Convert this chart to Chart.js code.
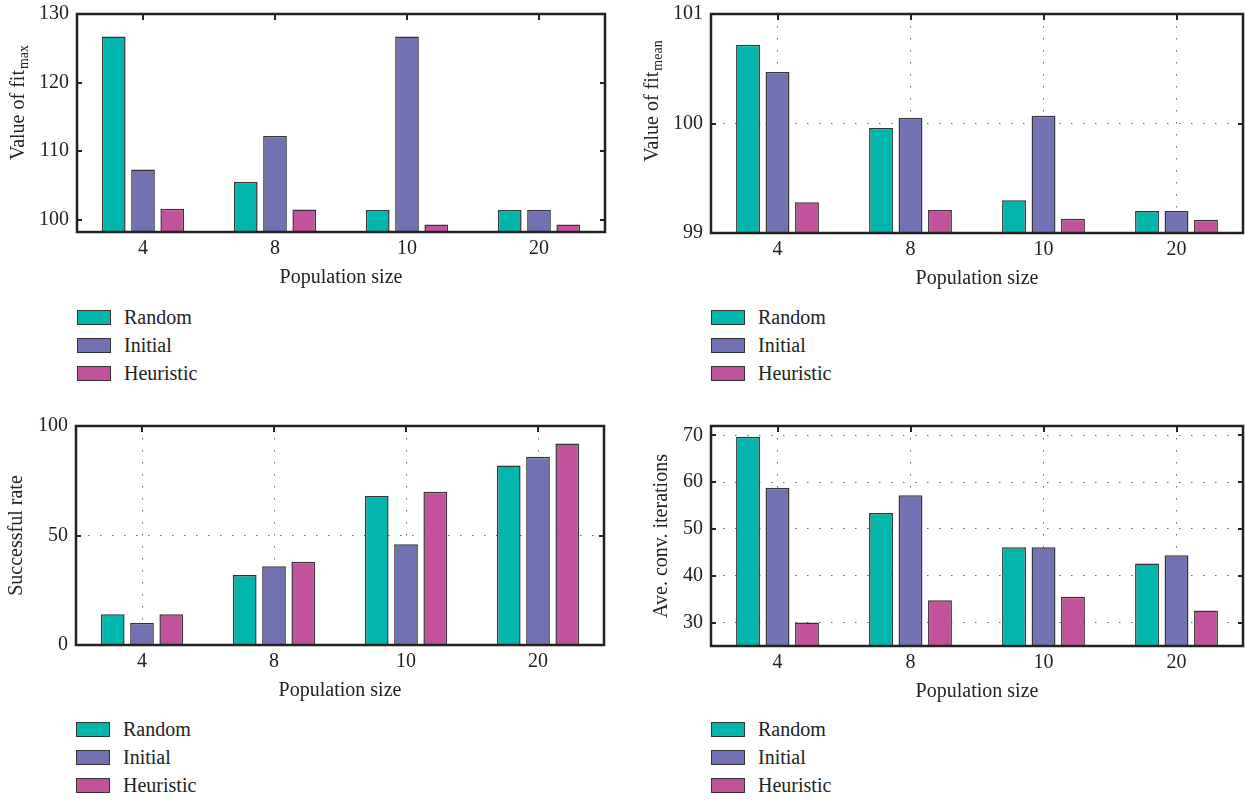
<!DOCTYPE html>
<html>
<head>
<meta charset="utf-8">
<script src="https://cdn.jsdelivr.net/npm/chart.js@4.4.1/dist/chart.umd.min.js"></script>
<style>
html, body { margin: 0; padding: 0; background: #fff; overflow: hidden; }
body { width: 1246px; height: 801px; position: relative; font-family: "Liberation Serif", serif; color: #222; }
.panel { position: absolute; width: 620px; height: 400px; }
.panel canvas { position: absolute; left: 0; top: 0; }
.legend { position: absolute; top: 303px; }
.legend .row { height: 28px; display: flex; align-items: center; font-size: 20px; }
.legend .box { width: 32px; height: 13px; border: 1.5px solid #333; margin-right: 13px; }
</style>
</head>
<body>

<div class="panel" id="p1" style="left:0;top:0"><canvas width="620" height="300"></canvas></div>
<div class="panel" id="p2" style="left:626px;top:0"><canvas width="620" height="300"></canvas></div>
<div class="panel" id="p3" style="left:0;top:412px"><canvas width="620" height="300"></canvas></div>
<div class="panel" id="p4" style="left:626px;top:412px"><canvas width="620" height="300"></canvas></div>

<script>
/* ================= DATA ================= */
const categories = ["4", "8", "10", "20"];
const seriesNames = ["Random", "Initial", "Heuristic"];
const seriesColors = ["#00b6ad", "#7171b4", "#c3529c"];

// value of fit_max
const fitMaxRandom = [126.7, 105.5, 101.4, 101.4];
const fitMaxInitial = [107.3, 112.2, 126.7, 101.4];
const fitMaxHeuristic = [101.6, 101.5, 99.3, 99.3];
const fitMaxTicks = [100, 110, 120, 130];

// value of fit_mean
const fitMeanRandom = [100.72, 99.96, 99.30, 99.20];
const fitMeanInitial = [100.47, 100.05, 100.07, 99.20];
const fitMeanHeuristic = [99.28, 99.21, 99.13, 99.12];
const fitMeanTicks = [99, 100, 101];

// successful rate
const rateRandom = [14, 32, 68, 82];
const rateInitial = [10, 36, 46, 86];
const rateHeuristic = [14, 38, 70, 92];
const rateTicks = [0, 50, 100];

// ave. conv. iterations
const iterRandom = [69.7, 53.4, 46.1, 42.6];
const iterInitial = [58.8, 57.2, 46.1, 44.4];
const iterHeuristic = [30.0, 34.8, 35.5, 32.6];
const iterTicks = [30, 40, 50, 60, 70];

const FONT = "'Liberation Serif', serif";
const INK = "#222";

/* ================= FRAME + TITLES ================= */
const framePlugin = {
    id: "frame",
    afterDatasetsDraw(chart, args, opts) {
        const { ctx, chartArea: a, scales: { x, y } } = chart;
        ctx.save();
        ctx.strokeStyle = INK;

        // inward tick marks
        ctx.lineWidth = 2;
        ctx.beginPath();
        y.ticks.forEach(t => {
            const py = Math.round(y.getPixelForValue(t.value));
            ctx.moveTo(a.left, py); ctx.lineTo(a.left + 5, py);
            ctx.moveTo(a.right, py); ctx.lineTo(a.right - 5, py);
        });
        x.ticks.forEach((t, i) => {
            const px = Math.round(x.getPixelForTick(i));
            ctx.moveTo(px, a.top); ctx.lineTo(px, a.top + 6);
        });
        ctx.stroke();

        ctx.lineWidth = 2.5;
        ctx.strokeRect(a.left, a.top, a.right - a.left, a.bottom - a.top);

        // x title
        ctx.fillStyle = INK;
        ctx.font = "20px " + FONT;
        ctx.textAlign = "center";
        ctx.textBaseline = "middle";
        ctx.fillText("Population size", (a.left + a.right) / 2, a.bottom + 46);

        // y title (with optional subscript)
        ctx.translate(a.left - opts.gap, (a.top + a.bottom) / 2 - opts.shift);
        ctx.rotate(-Math.PI / 2);
        ctx.font = "20px " + FONT;
        const w1 = ctx.measureText(opts.text).width;
        let w2 = 0;
        if (opts.sub) {
            ctx.font = "14px " + FONT;
            w2 = ctx.measureText(opts.sub).width;
        }
        const start = -(w1 + w2) / 2;
        ctx.textAlign = "left";
        ctx.font = "20px " + FONT;
        ctx.fillText(opts.text, start, 0);
        if (opts.sub) {
            ctx.font = "14px " + FONT;
            ctx.fillText(opts.sub, start + w1 + 1, 5);
        }
        ctx.restore();
    }
};

/* ================= CHART ================= */
function makeChart(cfg) {
    const panel = document.getElementById(cfg.panel);
    const canvas = panel.querySelector("canvas");

    const datasets = cfg.series.map((vals, i) => ({
        label: seriesNames[i],
        data: vals,
        backgroundColor: seriesColors[i],
        borderColor: "#333",
        borderWidth: 1.5,
        categoryPercentage: 0.665,
        barPercentage: 0.81
    }));

    const gridStyle = {
        display: cfg.grid,
        color: "#666",
        lineWidth: 1,
        drawTicks: false
    };

    new Chart(canvas, {
        type: "bar",
        data: { labels: categories, datasets },
        plugins: [framePlugin],
        options: {
            responsive: false,
            animation: false,
            layout: {
                padding: {
                    left: cfg.plot.left - 60,
                    right: 620 - cfg.plot.right,
                    top: cfg.plot.top,
                    bottom: 0
                }
            },
            plugins: {
                legend: { display: false },
                tooltip: { enabled: false },
                frame: { text: cfg.title, sub: cfg.sub, gap: cfg.gap, shift: cfg.shift }
            },
            scales: {
                x: {
                    grid: Object.assign({ offset: false }, gridStyle),
                    border: { display: false, dash: [1.5, 10.5] },
                    ticks: { font: { family: FONT, size: 20 }, color: INK, padding: 5 },
                    afterFit: s => {
                        s.height = 300 - cfg.plot.bottom;
                        s.paddingLeft = 0; s.paddingRight = 0;
                    }
                },
                y: {
                    min: cfg.min,
                    max: cfg.max,
                    afterBuildTicks: s => { s.ticks = cfg.ticks.map(v => ({ value: v })); },
                    grid: gridStyle,
                    border: { display: false, dash: [1.5, 10.5] },
                    ticks: { font: { family: FONT, size: 20 }, color: INK, padding: 8 },
                    afterFit: s => {
                        s.width = 60;
                        s.paddingTop = 0; s.paddingBottom = 0;
                    }
                }
            }
        }
    });

    // legend
    const leg = document.createElement("div");
    leg.className = "legend";
    leg.style.left = cfg.plot.left + "px";
    seriesNames.forEach((name, i) => {
        const row = document.createElement("div");
        row.className = "row";
        row.innerHTML = `<span class="box" style="background:${seriesColors[i]}"></span><span>${name}</span>`;
        leg.appendChild(row);
    });
    panel.appendChild(leg);
}

makeChart({
    panel: "p1",
    series: [fitMaxRandom, fitMaxInitial, fitMaxHeuristic],
    ticks: fitMaxTicks, min: 98.2, max: 130,
    grid: false,
    title: "Value of fit", sub: "max", gap: 58, shift: 20,
    plot: { left: 77, top: 14, right: 605, bottom: 232 }
});

makeChart({
    panel: "p2",
    series: [fitMeanRandom, fitMeanInitial, fitMeanHeuristic],
    ticks: fitMeanTicks, min: 99, max: 101,
    grid: true,
    title: "Value of fit", sub: "mean", gap: 58, shift: 22,
    plot: { left: 85, top: 14, right: 617, bottom: 233 }
});

makeChart({
    panel: "p3",
    series: [rateRandom, rateInitial, rateHeuristic],
    ticks: rateTicks, min: 0, max: 100,
    grid: true,
    title: "Successful rate", sub: "", gap: 59, shift: 0,
    plot: { left: 76, top: 14, right: 604, bottom: 233 }
});

makeChart({
    panel: "p4",
    series: [iterRandom, iterInitial, iterHeuristic],
    ticks: iterTicks, min: 25, max: 72,
    grid: true,
    title: "Ave. conv. iterations", sub: "", gap: 49, shift: 0,
    plot: { left: 85, top: 14, right: 617, bottom: 234 }
});
</script>
</body>
</html>
